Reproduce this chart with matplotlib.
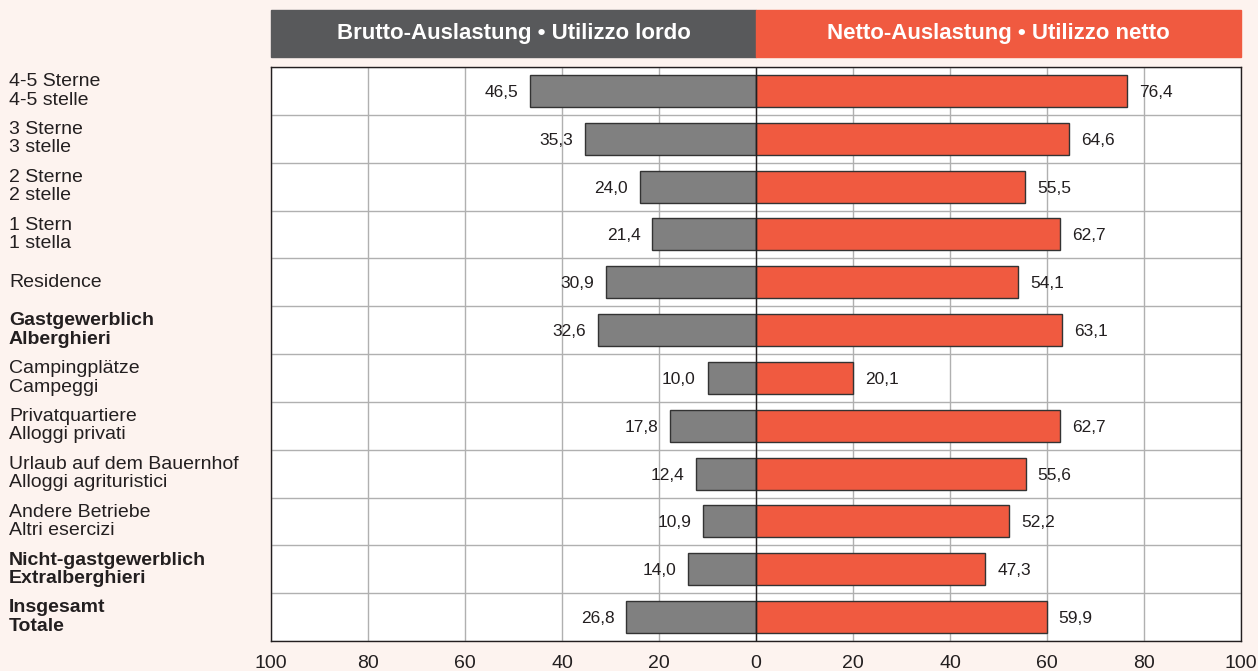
import matplotlib.pyplot as plt
import numpy as np
from matplotlib.patches import Rectangle

plt.rcParams['font.family'] = ['Liberation Sans', 'DejaVu Sans']

# data
categories = [
    "4-5 Sterne\n4-5 stelle",
    "3 Sterne\n3 stelle",
    "2 Sterne\n2 stelle",
    "1 Stern\n1 stella",
    "Residence",
    "Gastgewerblich\nAlberghieri",
    "Campingplätze\nCampeggi",
    "Privatquartiere\nAlloggi privati",
    "Urlaub auf dem Bauernhof\nAlloggi agrituristici",
    "Andere Betriebe\nAltri esercizi",
    "Nicht-gastgewerblich\nExtralberghieri",
    "Insgesamt\nTotale",
]
bold_rows = [5, 10, 11]
brutto = [46.5, 35.3, 24.0, 21.4, 30.9, 32.6, 10.0, 17.8, 12.4, 10.9, 14.0, 26.8]
netto = [76.4, 64.6, 55.5, 62.7, 54.1, 63.1, 20.1, 62.7, 55.6, 52.2, 47.3, 59.9]
xticks = [-100, -80, -60, -40, -20, 0, 20, 40, 60, 80, 100]

bg = '#fdf3ef'
gray = '#808080'
red = '#f05a40'
dark = '#58595b'
txt = '#231f20'

W, H = 1258, 671
left, right, top, bottom = 271, 1241, 67, 641

fig = plt.figure(figsize=(W / 100, H / 100), dpi=100, facecolor=bg)
ax = fig.add_axes([left / W, 1 - bottom / H, (right - left) / W, (bottom - top) / H])
ax.set_facecolor('white')

y = np.arange(len(categories))
ax.barh(y, [-v for v in brutto], height=0.67, color=gray, edgecolor='#333333', linewidth=1, zorder=3)
ax.barh(y, netto, height=0.67, color=red, edgecolor='#333333', linewidth=1, zorder=3)

def fmt(v):
    return f"{v:.1f}".replace('.', ',')

for i in range(len(categories)):
    ax.text(-brutto[i] - 2.4, y[i] + 0.03, fmt(brutto[i]), ha='right', va='center', fontsize=12.5, color=txt, zorder=4)
    ax.text(netto[i] + 2.5, y[i] + 0.03, fmt(netto[i]), ha='left', va='center', fontsize=12.5, color=txt, zorder=4)

ax.set_xlim(-100, 100)
ax.set_ylim(len(categories) - 0.5, -0.5)
ax.set_xticks(xticks)
ax.set_xticklabels([str(abs(t)) for t in xticks], fontsize=14, color=txt)
ax.tick_params(axis='x', length=0, pad=10)
ax.set_yticks([])
ax.set_yticks(np.arange(len(categories) + 1) - 0.5, minor=True)
ax.grid(axis='x', color='#b0b0b0', linewidth=1, zorder=1)
ax.grid(axis='y', which='minor', color='#b0b0b0', linewidth=1, zorder=1)
ax.tick_params(axis='y', which='minor', length=0)
ax.axvline(0, color=txt, linewidth=1, zorder=5)
for s in ax.spines.values():
    s.set_color(txt)
    s.set_linewidth(1)

# category labels
lab_x = (9 - left) / (right - left)
for i, lab in enumerate(categories):
    ax.text(lab_x, y[i], lab, transform=ax.get_yaxis_transform(), ha='left', va='center',
            fontsize=14, color=txt, linespacing=1.1,
            fontweight='bold' if i in bold_rows else 'normal')

# header boxes
hb = 1 - 57 / H
hh = 47 / H
x0 = left / W
xm = 756 / W
x1 = right / W
fig.patches.append(Rectangle((x0, hb), xm - x0, hh, transform=fig.transFigure, color=dark))
fig.patches.append(Rectangle((xm, hb), x1 - xm, hh, transform=fig.transFigure, color=red))
fig.text((x0 + xm) / 2, hb + hh / 2, "Brutto-Auslastung \u2022 Utilizzo lordo", ha='center', va='center',
         color='white', fontsize=16, fontweight='bold')
fig.text((xm + x1) / 2, hb + hh / 2, "Netto-Auslastung \u2022 Utilizzo netto", ha='center', va='center',
         color='white', fontsize=16, fontweight='bold')

fig.savefig('out.png', dpi=100, facecolor=bg)
